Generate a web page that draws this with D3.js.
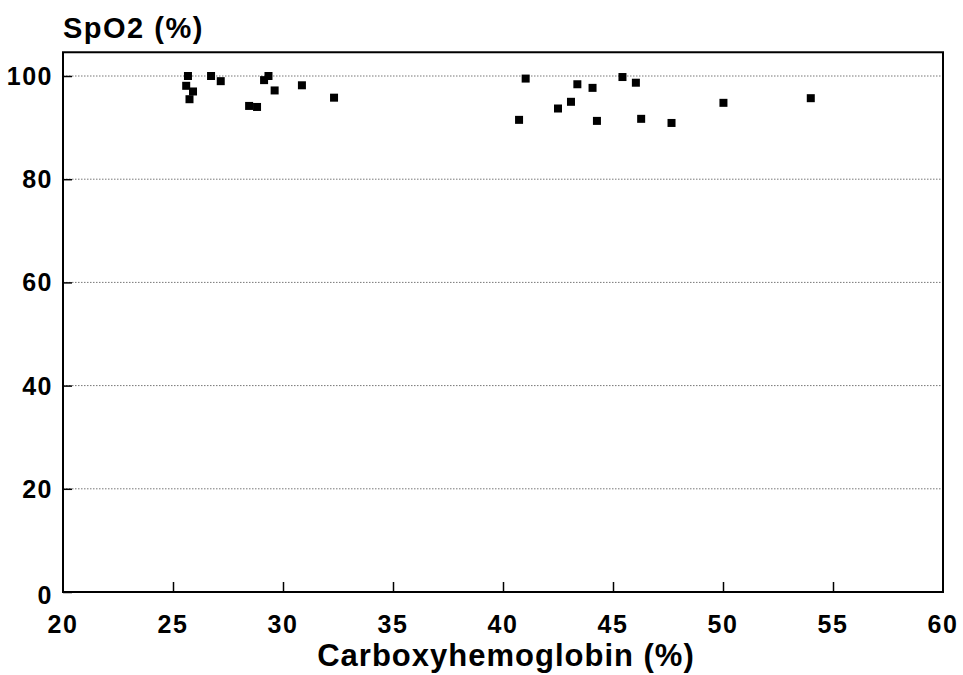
<!DOCTYPE html>
<html>
<head>
<meta charset="utf-8">
<script src="https://cdn.jsdelivr.net/npm/d3@7"></script>
<style>
  html, body { margin: 0; padding: 0; background: #fff; }
  svg text { font-family: "Liberation Sans", Arial, sans-serif; font-weight: bold; fill: #000; }
</style>
</head>
<body>
<div id="chart"></div>
<script>
// carboxyhemoglobin (%) vs SpO2 (%)
var cohb = [25.68, 26.73, 27.17, 25.60, 25.91, 25.75, 28.46, 28.82, 29.14, 29.34, 29.62, 30.86, 32.32,
            41.03, 40.73, 43.38, 44.07, 42.50, 43.09, 44.27, 45.43, 46.04, 46.28, 47.66, 50.02, 53.99];
var spo2 = [100.0, 100.0, 99.0, 98.1, 97.0, 95.5, 94.2, 94.0, 99.2, 100.0, 97.2, 98.2, 95.8,
            99.5, 91.5, 98.4, 97.7, 93.7, 95.0, 91.3, 99.8, 98.7, 91.7, 90.9, 94.8, 95.7];
var xTicks = [20, 25, 30, 35, 40, 45, 50, 55, 60];
var yTicks = [0, 20, 40, 60, 80, 100];

var width = 963, height = 675;
var margin = {top: 52, right: 20, bottom: 82, left: 63};

var svg = d3.select("#chart").append("svg")
  .attr("width", width)
  .attr("height", height);

var x = d3.scaleLinear().domain([20, 60]).range([margin.left, width - margin.right]);
var y = d3.scaleLinear().domain([0, 100]).range([592, 76]);
var yTop = y(104.6);

// dotted gridlines
svg.append("g")
  .selectAll("line")
  .data(yTicks.filter(d => d > 0))
  .enter().append("line")
  .attr("x1", x(20)).attr("x2", x(60))
  .attr("y1", d => y(d)).attr("y2", d => y(d))
  .attr("stroke", "#777")
  .attr("stroke-width", 1)
  .attr("stroke-dasharray", "1.5,1.5");

// y axis, ticks pointing in
var yAxis = svg.append("g")
  .attr("transform", "translate(" + x(20) + ",0)")
  .call(d3.axisRight(y).tickValues(yTicks).tickSize(9).tickFormat(""));
yAxis.select(".domain").remove();
yAxis.selectAll("line").attr("stroke", "#000").attr("stroke-width", 1.5);

// x axis, ticks pointing up
var xAxis = svg.append("g")
  .attr("transform", "translate(0," + y(0) + ")")
  .call(d3.axisTop(x).tickValues(xTicks.slice(1, -1)).tickSize(10).tickFormat(""));
xAxis.select(".domain").remove();
xAxis.selectAll("line").attr("stroke", "#000").attr("stroke-width", 1.5);

// frame
svg.append("rect")
  .attr("x", x(20)).attr("y", yTop)
  .attr("width", x(60) - x(20)).attr("height", y(0) - yTop)
  .attr("fill", "none")
  .attr("stroke", "#000")
  .attr("stroke-width", 2);

// tick labels
svg.append("g").selectAll("text")
  .data(xTicks)
  .enter().append("text")
  .attr("x", d => x(d))
  .attr("y", 633)
  .attr("text-anchor", "middle")
  .attr("font-size", "25px")
  .attr("letter-spacing", "1.5px")
  .text(d => d);

svg.append("g").selectAll("text")
  .data(yTicks)
  .enter().append("text")
  .attr("x", 53)
  .attr("y", d => y(d) + (d === 0 ? 12 : 9))
  .attr("text-anchor", "end")
  .attr("font-size", "25px")
  .attr("letter-spacing", "1.5px")
  .text(d => d);

// axis titles
svg.append("text")
  .attr("x", 63).attr("y", 38)
  .attr("font-size", "29px")
  .attr("letter-spacing", "1.5px")
  .text("SpO2 (%)");

svg.append("text")
  .attr("x", (x(20) + x(60)) / 2 + 3).attr("y", 666)
  .attr("text-anchor", "middle")
  .attr("font-size", "31px")
  .attr("letter-spacing", "1px")
  .text("Carboxyhemoglobin (%)");

// points
var pts = d3.range(cohb.length).map(i => [cohb[i], spo2[i]]);
svg.append("g").selectAll("rect")
  .data(pts)
  .enter().append("rect")
  .attr("x", d => x(d[0]) - 4)
  .attr("y", d => y(d[1]) - 4)
  .attr("width", 8).attr("height", 8)
  .attr("fill", "#000");
</script>
</body>
</html>
